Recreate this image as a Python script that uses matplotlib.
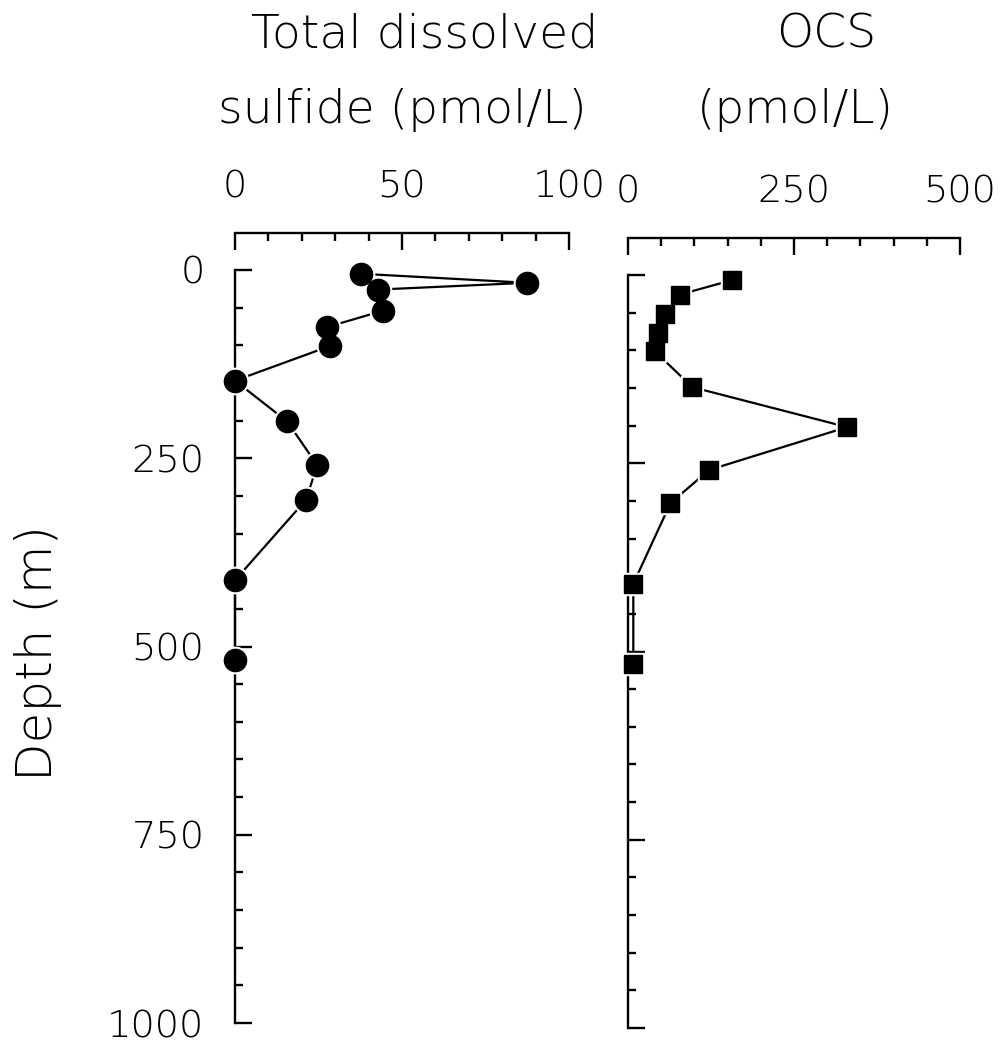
import matplotlib
matplotlib.use("Agg")
import matplotlib.pyplot as plt
from matplotlib.ticker import MultipleLocator

# water column profiles
sulfide_depth = [5, 17, 26, 54, 76, 101, 147, 201, 259, 305, 412, 518]
sulfide = [37.7, 87.4, 42.8, 44.3, 27.5, 28.4, 0, 15.6, 24.6, 21.3, 0, 0]

ocs_depth = [7, 26, 52, 77, 101, 149, 202, 259, 303, 410, 517]
ocs = [156, 78, 56, 45, 40, 97, 330, 122, 64, 8, 8]

sulfide_ticks = [0, 50, 100]
ocs_ticks = [0, 250, 500]
depth_ticks = [0, 250, 500, 750, 1000]

plt.rcParams["font.family"] = ["DejaVu Sans"]
plt.rcParams["font.weight"] = 200

W, H = 1004, 1047
fig = plt.figure(figsize=(W / 100, H / 100), dpi=100)


def px_axes(x0, y0, x1, y1):
    return fig.add_axes([x0 / W, 1 - y1 / H, (x1 - x0) / W, (y1 - y0) / H])


ax1 = px_axes(235, 270, 569, 1023)
ax2 = px_axes(628, 275, 960, 1028)


def profile(ax, x, y, marker, size, halo):
    ax.plot(x, y, color="black", lw=1.6, clip_on=False, zorder=2)
    ax.plot(x, y, ls="none", marker=marker, ms=size + halo, mfc="white",
            mec="white", clip_on=False, zorder=3)
    ax.plot(x, y, ls="none", marker=marker, ms=size, mfc="black",
            mec="black", clip_on=False, zorder=4)


profile(ax1, sulfide, sulfide_depth, "o", 16, 3)
profile(ax2, ocs, ocs_depth, "s", 13, 3)

for ax, xmax, xticks, xminor in [(ax1, 100, sulfide_ticks, 10),
                                 (ax2, 500, ocs_ticks, 50)]:
    ax.set_xlim(0, xmax)
    ax.set_ylim(1000, 0)
    ax.spines["right"].set_visible(False)
    ax.spines["bottom"].set_visible(False)
    ax.spines["top"].set_position(("outward", 27))
    for s in ("top", "left"):
        ax.spines[s].set_linewidth(1.7)
    ax.xaxis.tick_top()
    ax.set_xticks(xticks)
    ax.xaxis.set_minor_locator(MultipleLocator(xminor))
    ax.set_yticks(depth_ticks)
    ax.yaxis.set_minor_locator(MultipleLocator(50))
    ax.tick_params(which="both", direction="in", width=1.7, labelsize=27.5,
                   right=False, bottom=False)
    ax.tick_params(which="major", length=12)
    ax.tick_params(which="minor", length=6)
    ax.tick_params(axis="x", which="major", pad=20)
    ax.tick_params(axis="y", which="major", pad=22)

ax2.tick_params(axis="y", labelleft=False)

title_kw = dict(fontsize=34, ha="center", va="center")
fig.text(425 / W, 1 - 35 / H, "Total dissolved", **title_kw)
fig.text(402 / W, 1 - 110 / H, "sulfide (pmol/L)", **title_kw)
fig.text(826 / W, 1 - 35 / H, "OCS", **title_kw)
fig.text(795 / W, 1 - 110 / H, "(pmol/L)", **title_kw)
fig.text(38 / W, 1 - 653 / H, "Depth (m)", fontsize=36, rotation=90,
         ha="center", va="center")

fig.savefig("out.png", dpi=100)
